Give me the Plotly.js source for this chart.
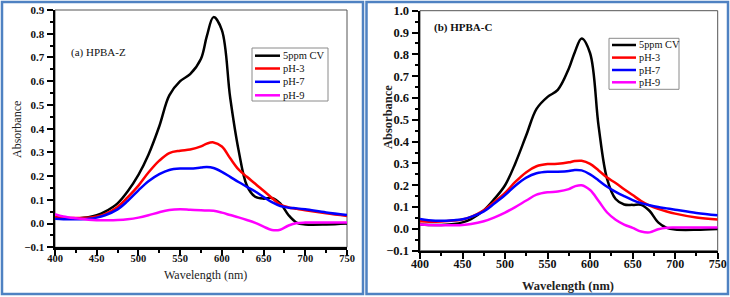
<!DOCTYPE html>
<html>
<head>
<meta charset="utf-8">
<script src="https://cdn.plot.ly/plotly-3.0.1.min.js"></script>
<style>
  html, body { margin: 0; padding: 0; background: #fff; }
  #chart { width: 730px; height: 297px; }
</style>
</head>
<body>
<div id="chart"></div>
<script>
// Wavelength grid (nm) shared by all spectra
const wavelength = [400, 410, 425, 440, 450, 460, 475, 487, 500, 512, 525, 537, 550, 562, 575, 582, 590, 600, 610, 620, 630, 640, 650, 660, 670, 680, 690, 700, 725, 750];

const seriesNames = ["5ppm CV", "pH-3", "pH-7", "pH-9"];
const seriesColors = ["#000000", "#ff0000", "#0000ff", "#ff00ff"];

// (a) HPBA-Z absorbance
const hpbaZ_cv  = [0.022, 0.020, 0.022, 0.027, 0.035, 0.050, 0.085, 0.135, 0.205, 0.290, 0.410, 0.540, 0.600, 0.630, 0.695, 0.790, 0.870, 0.815, 0.530, 0.310, 0.160, 0.113, 0.105, 0.108, 0.085, 0.035, 0.003, -0.004, -0.004, 0.000];
const hpbaZ_ph3 = [0.028, 0.025, 0.023, 0.025, 0.030, 0.040, 0.070, 0.110, 0.160, 0.215, 0.265, 0.297, 0.307, 0.312, 0.325, 0.337, 0.342, 0.325, 0.275, 0.228, 0.197, 0.168, 0.138, 0.108, 0.080, 0.068, 0.062, 0.056, 0.043, 0.032];
const hpbaZ_ph7 = [0.020, 0.018, 0.018, 0.020, 0.025, 0.035, 0.060, 0.095, 0.140, 0.178, 0.208, 0.226, 0.232, 0.232, 0.236, 0.238, 0.234, 0.218, 0.197, 0.175, 0.155, 0.135, 0.112, 0.090, 0.074, 0.067, 0.064, 0.060, 0.047, 0.036];
const hpbaZ_ph9 = [0.040, 0.030, 0.022, 0.016, 0.014, 0.014, 0.015, 0.018, 0.025, 0.035, 0.048, 0.057, 0.060, 0.058, 0.056, 0.055, 0.054, 0.046, 0.036, 0.026, 0.015, 0.003, -0.013, -0.027, -0.026, -0.008, 0.002, 0.004, 0.004, 0.004];

// (b) HPBA-C absorbance
const hpbaC_cv  = [0.020, 0.018, 0.018, 0.022, 0.030, 0.045, 0.085, 0.135, 0.200, 0.300, 0.430, 0.550, 0.605, 0.637, 0.735, 0.810, 0.873, 0.805, 0.470, 0.228, 0.137, 0.112, 0.110, 0.110, 0.082, 0.030, 0.005, -0.003, -0.004, 0.000];
const hpbaC_ph3 = [0.035, 0.033, 0.034, 0.038, 0.043, 0.055, 0.085, 0.122, 0.165, 0.215, 0.260, 0.287, 0.297, 0.298, 0.305, 0.311, 0.312, 0.298, 0.268, 0.235, 0.210, 0.182, 0.155, 0.128, 0.107, 0.092, 0.080, 0.070, 0.052, 0.043];
const hpbaC_ph7 = [0.045, 0.040, 0.037, 0.040, 0.044, 0.055, 0.080, 0.115, 0.155, 0.198, 0.235, 0.255, 0.262, 0.262, 0.265, 0.270, 0.268, 0.250, 0.222, 0.193, 0.170, 0.150, 0.132, 0.118, 0.108, 0.100, 0.094, 0.088, 0.073, 0.062];
const hpbaC_ph9 = [0.020, 0.018, 0.017, 0.017, 0.018, 0.022, 0.035, 0.052, 0.075, 0.100, 0.130, 0.157, 0.168, 0.171, 0.182, 0.195, 0.200, 0.178, 0.128, 0.075, 0.042, 0.020, 0.005, -0.012, -0.016, -0.002, 0.005, 0.006, 0.006, 0.006];

const xTicks = [400, 450, 500, 550, 600, 650, 700, 750];

// ---- page geometry helpers (pixel -> paper) ----
const W = 730, H = 297;
const px = x => x / W;
const py = y => 1 - y / H;
const SERIF = "Liberation Serif";

function spectrum(y, i, xa, ya) {
  return {
    type: "scatter", mode: "lines",
    x: wavelength, y: y, name: seriesNames[i],
    xaxis: xa, yaxis: ya, showlegend: false,
    line: { color: seriesColors[i], width: 2.5, shape: "spline", smoothing: 1 },
    hoverinfo: "x+y+name"
  };
}

const data = [
  spectrum(hpbaZ_cv, 0, "x", "y"),
  spectrum(hpbaZ_ph3, 1, "x", "y"),
  spectrum(hpbaZ_ph7, 2, "x", "y"),
  spectrum(hpbaZ_ph9, 3, "x", "y"),
  spectrum(hpbaC_cv, 0, "x2", "y2"),
  spectrum(hpbaC_ph3, 1, "x2", "y2"),
  spectrum(hpbaC_ph7, 2, "x2", "y2"),
  spectrum(hpbaC_ph9, 3, "x2", "y2")
];

function xAxis(domain, anchor, tickSize, labelShift) {
  return {
    domain: domain, anchor: anchor, range: [400, 750],
    tickvals: xTicks, ticks: "outside", ticklen: 6, tickwidth: 2, tickcolor: "#000",
    ticklabelstandoff: labelShift,
    minor: { dtick: 25, tick0: 400, ticks: "outside", ticklen: 3, tickwidth: 2, tickcolor: "#000" },
    showline: true, linewidth: 2.5, linecolor: "#000",
    showgrid: false, zeroline: false,
    tickfont: { family: SERIF, size: tickSize, color: "#111", weight: "bold" }
  };
}

function yAxis(domain, anchor, range, tickSize) {
  return {
    domain: domain, anchor: anchor, range: range,
    dtick: 0.1, tick0: 0, tickformat: ".1f",
    ticks: "outside", ticklen: 6, tickwidth: 2, tickcolor: "#000",
    minor: { dtick: 0.05, tick0: 0, ticks: "outside", ticklen: 3, tickwidth: 2, tickcolor: "#000" },
    showline: true, linewidth: 2.5, linecolor: "#000",
    showgrid: false, zeroline: false,
    tickfont: { family: SERIF, size: tickSize, color: "#111", weight: "bold" }
  };
}

const shapes = [];
const annotations = [];

// panel frames
shapes.push({ type: "rect", xref: "paper", yref: "paper", x0: px(2), x1: px(363), y0: py(294), y1: py(2),
              line: { color: "#4f82c2", width: 2.5 }, layer: "below" });
shapes.push({ type: "rect", xref: "paper", yref: "paper", x0: px(366.5), x1: px(728), y0: py(294), y1: py(2),
              line: { color: "#4f82c2", width: 2.5 }, layer: "below" });

// thin box around each plotting area (top and right edges)
["", "2"].forEach(s => {
  shapes.push({ type: "rect", xref: "x" + s + " domain", yref: "y" + s + " domain", x0: 0, x1: 1, y0: 0, y1: 1,
                line: { color: "#555", width: 1 }, layer: "below" });
});

// legend boxes
function legendBlock(box, lineX0, lineX1, textX, rows, fontSize) {
  shapes.push({ type: "rect", xref: "paper", yref: "paper", x0: px(box[0]), x1: px(box[1]), y0: py(box[3]), y1: py(box[2]),
                line: { color: "#8a8a8a", width: 1 }, fillcolor: "#fff" });
  seriesNames.forEach((name, i) => {
    shapes.push({ type: "line", xref: "paper", yref: "paper", x0: px(lineX0), x1: px(lineX1), y0: py(rows[i]), y1: py(rows[i]),
                  line: { color: seriesColors[i], width: 2.5 } });
    annotations.push({ xref: "paper", yref: "paper", x: px(textX), y: py(rows[i]), xanchor: "left", yanchor: "middle",
                       text: name, showarrow: false, font: { family: SERIF, size: fontSize, color: "#111" } });
  });
}
legendBlock([252, 328, 48, 101], 255, 280, 281, [55.7, 68.5, 81.8, 95.3], 10.5);
legendBlock([609, 679, 38.3, 89.3], 612, 636, 636.5, [45, 57.6, 70, 82.3], 10.3);

// panel labels
annotations.push({ xref: "paper", yref: "paper", x: px(69), y: py(53), xanchor: "left", yanchor: "middle",
                   text: "(a) HPBA-Z", showarrow: false, font: { family: SERIF, size: 11, color: "#111" } });
annotations.push({ xref: "paper", yref: "paper", x: px(432), y: py(27), xanchor: "left", yanchor: "middle",
                   text: "(b) HPBA-C", showarrow: false, font: { family: SERIF, size: 11, color: "#111", weight: "bold" } });

// axis titles
function axisTitle(text, x, y, angle, size, bold) {
  annotations.push({ xref: "paper", yref: "paper", x: px(x), y: py(y), xanchor: "center", yanchor: "middle",
                     text: text, textangle: angle, showarrow: false,
                     font: { family: SERIF, size: size, color: "#222", weight: bold ? "bold" : "normal" } });
}
axisTitle("Wavelength (nm)", 205, 275, 0, 12, false);
axisTitle("Absorbance", 17, 130, -90, 12, false);
axisTitle("Wavelength (nm)", 568, 286, 0, 12.5, true);
axisTitle("Absorbance", 388, 117, -90, 12.5, true);

const layout = {
  width: W, height: H,
  margin: { l: 0, r: 0, t: 0, b: 0 },
  paper_bgcolor: "#fff", plot_bgcolor: "#fff",
  showlegend: false,
  xaxis:  xAxis([px(55), px(347)], "y", 10.5, -6),
  yaxis:  yAxis([py(247.3), py(10)], "x", [-0.1, 0.9], 11),
  xaxis2: xAxis([px(420), px(717.7)], "y2", 12, -6),
  yaxis2: yAxis([py(250.7), py(10.7)], "x2", [-0.1, 1.0], 12.5),
  shapes: shapes,
  annotations: annotations
};

Plotly.newPlot("chart", data, layout, { displayModeBar: false, staticPlot: true });
</script>
</body>
</html>
